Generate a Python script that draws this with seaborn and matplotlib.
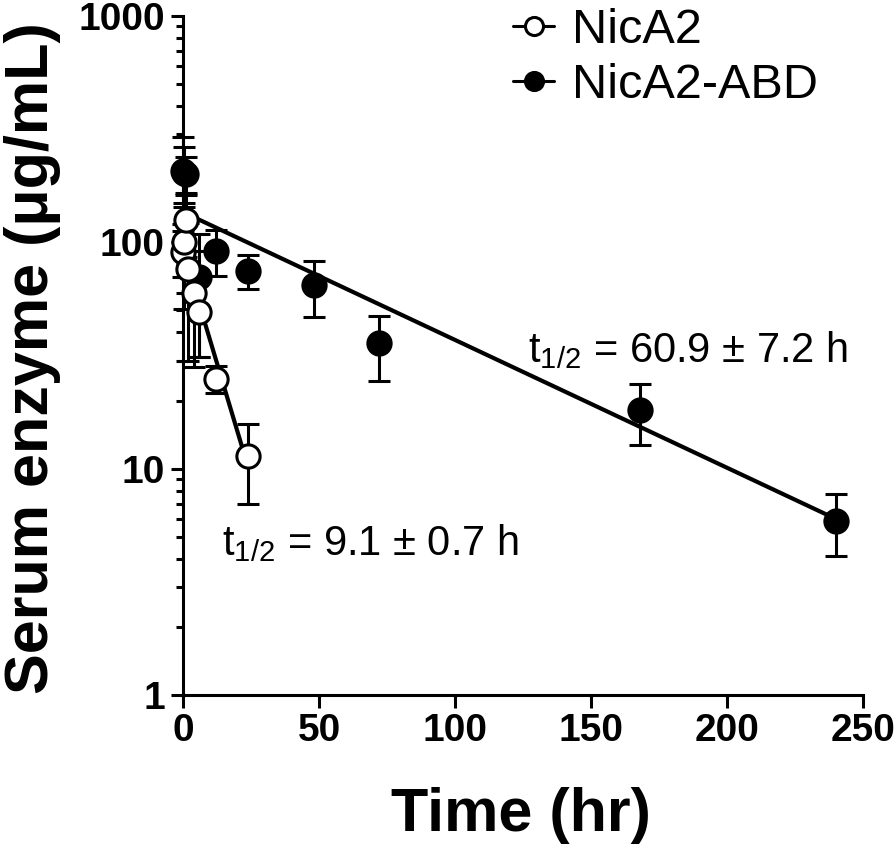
import matplotlib
matplotlib.use("Agg")
import matplotlib.pyplot as plt
from matplotlib.lines import Line2D
from matplotlib.ticker import LogLocator, NullFormatter, FuncFormatter
import seaborn as sns

# NicA2 (open circles), mean and SD
nica2_time = [0.083, 0.5, 1, 2, 4, 6, 12, 24]
nica2_mean = [91, 100, 126, 76, 60, 49, 25, 11.4]
nica2_sd = [21, 49, 40, 46, 32, 18, 3.5, 4.4]

# NicA2-ABD (filled circles), mean and SD
abd_time = [0.083, 0.5, 1, 6, 12, 24, 48, 72, 168, 240]
abd_mean = [206, 203, 200, 70, 92, 75, 65, 36, 18.2, 5.9]
abd_sd = [85, 60, 38, 39, 21, 12.5, 18, 11.5, 5.5, 1.8]

# fitted elimination lines (end points)
nica2_fit_time = [0, 24]
nica2_fit = [92.7, 10.1]
abd_fit_time = [0, 240]
abd_fit = [136, 6.0]

x_ticks = [0, 50, 100, 150, 200, 250]
y_ticks = [1, 10, 100, 1000]
labels = ["NicA2", "NicA2-ABD"]

sns.set_theme(style="ticks")
plt.rcParams['font.family'] = ['Liberation Sans', 'DejaVu Sans']
plt.rcParams['mathtext.default'] = 'regular'
for key in ['text.color', 'axes.labelcolor', 'xtick.color', 'ytick.color', 'axes.edgecolor']:
    plt.rcParams[key] = 'black'

fig = plt.figure(figsize=(8.94, 8.47), dpi=100)
ax = fig.add_axes([183 / 894, 152 / 847, 680 / 894, 679 / 847])

lw = 2.2

# error bars
for t, m, s in [(abd_time, abd_mean, abd_sd), (nica2_time, nica2_mean, nica2_sd)]:
    eb = ax.errorbar(t, m, yerr=s, fmt='none', ecolor='black', elinewidth=lw,
                     capsize=8, capthick=lw, zorder=2)
    for art in list(eb.lines[1]) + list(eb.lines[2]):
        art.set_clip_on(False)

# fit lines
sns.lineplot(x=abd_fit_time, y=abd_fit, ax=ax, color='black', linewidth=3, zorder=2)
sns.lineplot(x=nica2_fit_time, y=nica2_fit, ax=ax, color='black', linewidth=3, zorder=2)

# markers
sns.scatterplot(x=abd_time, y=abd_mean, ax=ax, s=280, color='black',
                edgecolor='black', linewidth=lw, zorder=3, clip_on=False, legend=False)
sns.scatterplot(x=nica2_time, y=nica2_mean, ax=ax, s=280, color='white',
                edgecolor='black', linewidth=lw, zorder=4, clip_on=False, legend=False)

ax.set_yscale('log')
ax.set_ylim(1, 1000)
ax.set_xlim(0, 250)
ax.set_xticks(x_ticks)
ax.set_yticks(y_ticks)
ax.yaxis.set_major_formatter(FuncFormatter(lambda v, p: f"{v:g}"))
ax.yaxis.set_minor_locator(LogLocator(base=10, subs=range(2, 10)))
ax.yaxis.set_minor_formatter(NullFormatter())

sns.despine(ax=ax)
for sp in ['left', 'bottom']:
    ax.spines[sp].set_linewidth(lw)

ax.tick_params(axis='both', which='major', length=9, width=lw, direction='out', pad=4)
ax.tick_params(axis='y', which='minor', length=5, width=lw, direction='out')

for lab in ax.get_yticklabels():
    lab.set_fontsize(28)
    lab.set_fontweight('bold')
for lab in ax.get_xticklabels():
    lab.set_fontsize(28)
    lab.set_fontweight('bold')

ax.set_xlabel("Time (hr)", fontsize=44, fontweight='bold')
ax.xaxis.set_label_coords(0.497, -0.135)
ax.set_ylabel("Serum enzyme (μg/mL)", fontsize=44, fontweight='bold')
ax.yaxis.set_label_coords(-0.18, 0.496)

ax.text(126.8, 29.7, r"t$_{1/2}$ = 60.9 ± 7.2 h", fontsize=30, va='baseline')
ax.text(14.3, 4.16, r"t$_{1/2}$ = 9.1 ± 0.7 h", fontsize=30, va='baseline')

handles = [
    Line2D([], [], color='black', lw=lw, marker='o', markersize=13,
           markerfacecolor='white', markeredgecolor='black', markeredgewidth=lw),
    Line2D([], [], color='black', lw=lw, marker='o', markersize=13,
           markerfacecolor='black', markeredgecolor='black', markeredgewidth=lw),
]
ax.legend(handles, labels, loc='upper left', bbox_to_anchor=(513 / 894, 1 - 8 / 847),
          bbox_transform=fig.transFigure, frameon=False, fontsize=35,
          handlelength=0.85, handletextpad=0.36, borderpad=0, borderaxespad=0,
          labelspacing=0.2)

fig.savefig("out.png", dpi=100)
